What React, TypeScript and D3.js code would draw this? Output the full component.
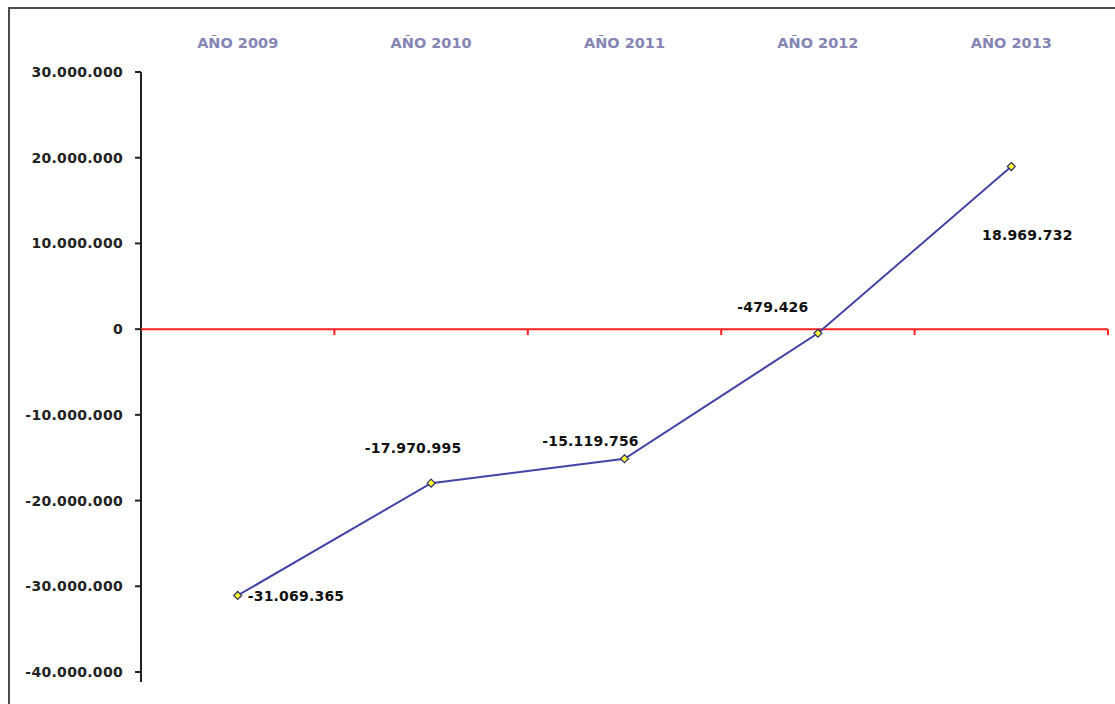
import React from "react";
import * as d3 from "d3";

const categories = ["AÑO 2009", "AÑO 2010", "AÑO 2011", "AÑO 2012", "AÑO 2013"];
const values = [-31069365, -17970995, -15119756, -479426, 18969732];
const yTicks = [30000000, 20000000, 10000000, 0, -10000000, -20000000, -30000000, -40000000];

// label offsets relative to point (dx, dy, anchor)
const labelOffsets: [number, number, string][] = [
  [10, 6, "start"],
  [-18, -30, "middle"],
  [-34, -13, "middle"],
  [-45, -21, "middle"],
  [16, 73, "middle"],
];

const fmt = (v: number) => {
  const s = Math.abs(Math.round(v)).toString().replace(/\B(?=(\d{3})+(?!\d))/g, ".");
  return (v < 0 ? "-" : "") + s;
};

export default function App() {
  const W = 1115, H = 704;
  const left = 141, right = 1108, top = 72, bottom = 672;
  const x = d3.scaleBand<string>().domain(categories).range([left, right]);
  const y = d3.scaleLinear().domain([-40000000, 30000000]).range([bottom, top]);
  const pts = values.map((v, i) => [x(categories[i])! + x.bandwidth() / 2, y(v)] as [number, number]);
  const line = d3.line()(pts) || "";
  const font = "'DejaVu Sans', Verdana, sans-serif";
  const boundaries = d3.range(categories.length + 1).map(i => left + i * x.bandwidth());
  return (
    <svg width={W} height={H} style={{ position: "absolute", left: 0, top: 0, background: "#fff" }}>
      <rect x={9} y={8} width={W + 20} height={H + 20} fill="#fff" stroke="#4a4a4a" strokeWidth={2} />
      {categories.map((c, i) => (
        <text key={c} x={x(c)! + x.bandwidth() / 2} y={48} textAnchor="middle" fontFamily={font}
          fontSize={14.5} fontWeight="bold" fill="#8585b5">{c}</text>
      ))}
      <line x1={left} x2={left} y1={top} y2={bottom + 10} stroke="#222" strokeWidth={2} />
      {yTicks.map(t => (
        <g key={t}>
          <line x1={left - 6} x2={left} y1={y(t)} y2={y(t)} stroke="#222" strokeWidth={2} />
          <text x={123} y={y(t) + 5} textAnchor="end" fontFamily={font} fontSize={14} fontWeight="bold"
            letterSpacing={0.3} fill="#222">{fmt(t)}</text>
        </g>
      ))}
      <line x1={left} x2={right} y1={y(0)} y2={y(0)} stroke="#ff2020" strokeWidth={2} />
      {boundaries.slice(1).map((b, i) => (
        <line key={i} x1={b} x2={b} y1={y(0)} y2={y(0) + 6} stroke="#ff2020" strokeWidth={2} />
      ))}
      <path d={line} fill="none" stroke="#4444a6" strokeWidth={2} />
      {pts.map((p, i) => (
        <path key={i} d={`M${p[0]},${p[1] - 4}L${p[0] + 4},${p[1]}L${p[0]},${p[1] + 4}L${p[0] - 4},${p[1]}Z`}
          fill="#ffff30" stroke="#30306a" strokeWidth={1.2} />
      ))}
      {pts.map((p, i) => (
        <text key={"l" + i} x={p[0] + labelOffsets[i][0]} y={p[1] + labelOffsets[i][1]} textAnchor={labelOffsets[i][2] as any}
          fontFamily={font} fontSize={14} fontWeight="bold" letterSpacing={0.2} fill="#111">{fmt(values[i])}</text>
      ))}
    </svg>
  );
}
